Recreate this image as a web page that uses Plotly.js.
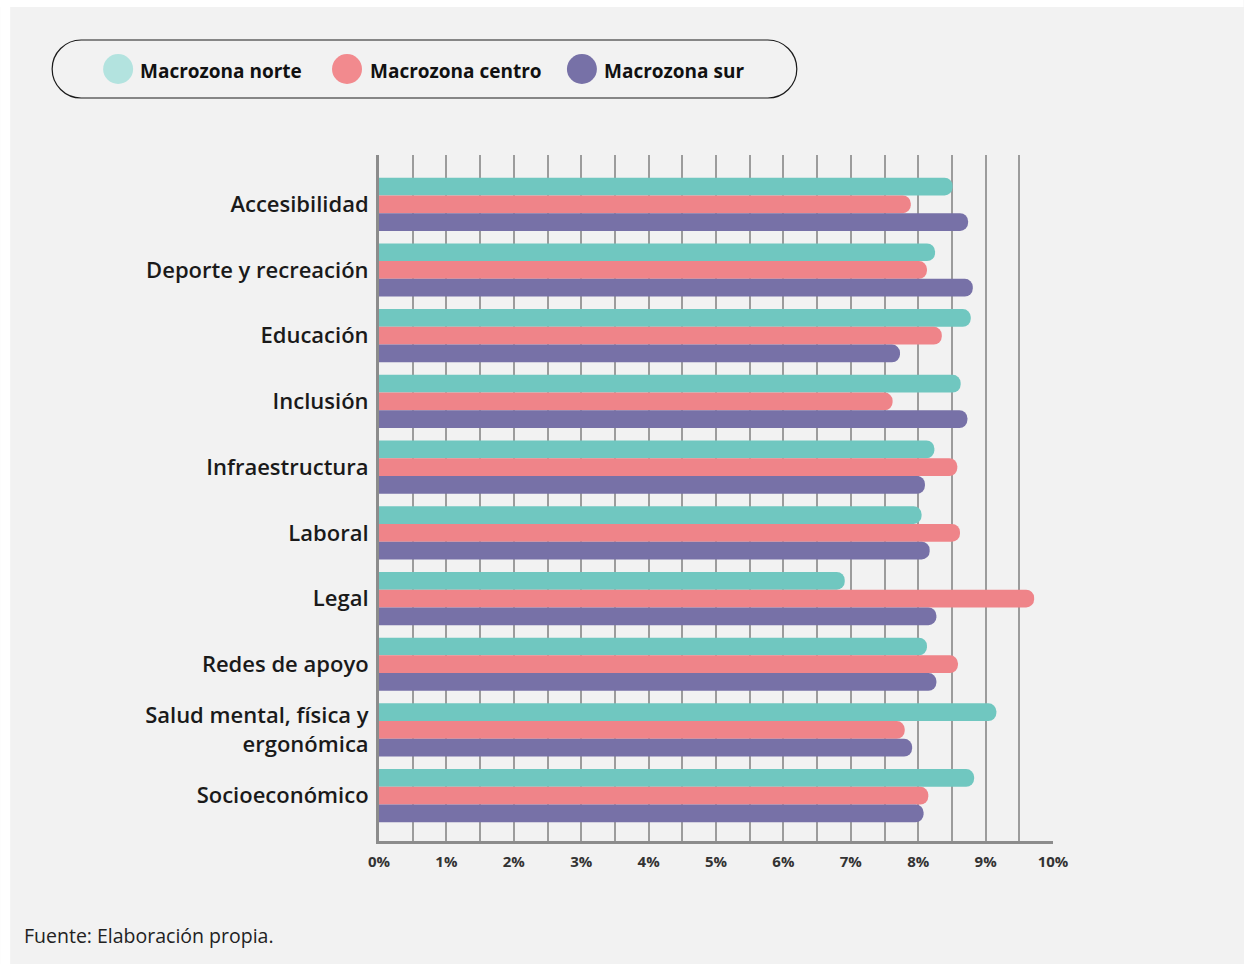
<!DOCTYPE html>
<html>
<head>
<meta charset="utf-8">
<script src="https://cdn.plot.ly/plotly-3.0.1.min.js"></script>
<style>html,body{margin:0;padding:0;background:#fff;}</style>
</head>
<body>
<div id="chart" style="width:1244px;height:964px;"></div>
<script>
const categories = ["Accesibilidad","Deporte y recreación","Educación","Inclusión","Infraestructura","Laboral","Legal","Redes de apoyo","Salud mental, física y<br>ergonómica","Socioeconómico"];
const seriesNames = ["Macrozona norte","Macrozona centro","Macrozona sur"];
const norte  = [8.51, 8.25, 8.78, 8.63, 8.24, 8.05, 6.91, 8.13, 9.16, 8.83];
const centro = [7.89, 8.13, 8.35, 7.62, 8.58, 8.62, 9.72, 8.59, 7.80, 8.15];
const sur    = [8.74, 8.81, 7.73, 8.73, 8.10, 8.17, 8.27, 8.27, 7.91, 8.08];
const barColors = ["#70c7c0","#ef8489","#7771a7"];
const legendColors = ["#b3e3df","#f28a8e","#7771a7"];
const xTickVals = [0,1,2,3,4,5,6,7,8,9,10];
const xTickText = ["0%","1%","2%","3%","4%","5%","6%","7%","8%","9%","10%"];
const footnote = "Fuente: Elaboración propia.";

const W = 1244, H = 964;
const L = 379, R = 1053.3, T = 155, B = 841;
const px = x => (x - L) / (R - L);
const py = y => (B - y) / (B - T);

const seriesVals = [norte, centro, sur];
const traces = seriesVals.map((vals, i) => ({
  type: "bar",
  orientation: "h",
  name: seriesNames[i],
  x: vals,
  y: categories,
  marker: {color: barColors[i], cornerradius: "50%", line: {width: 0}},
  hoverinfo: "x+y+name",
  showlegend: false
}));

// Legend box (stadium shape)
const bx0 = 52, bx1 = 797, by0 = 40, by1 = 98, r = 29, k = 0.5523;
const ym = (by0 + by1) / 2;
function P(x, y) { return px(x).toFixed(5) + "," + py(y).toFixed(5); }
const boxPath = "M" + P(bx0 + r, by0) + " L" + P(bx1 - r, by0) +
  " C" + P(bx1 - r + k * r, by0) + " " + P(bx1, ym - k * r) + " " + P(bx1, ym) +
  " C" + P(bx1, ym + k * r) + " " + P(bx1 - r + k * r, by1) + " " + P(bx1 - r, by1) +
  " L" + P(bx0 + r, by1) +
  " C" + P(bx0 + r - k * r, by1) + " " + P(bx0, ym + k * r) + " " + P(bx0, ym) +
  " C" + P(bx0, ym - k * r) + " " + P(bx0 + r - k * r, by0) + " " + P(bx0 + r, by0) + " Z";

const legendCx = [118, 347, 582];
const legendTx = [138, 368, 602];

const shapes = [
  {type: "rect", xref: "paper", yref: "paper", x0: px(0), x1: px(W), y0: py(7), y1: py(0), fillcolor: "#ffffff", line: {width: 0}, layer: "below"},
  {type: "rect", xref: "paper", yref: "paper", x0: px(0), x1: px(10), y0: py(H), y1: py(0), fillcolor: "#ffffff", line: {width: 0}, layer: "below"},
  {type: "path", xref: "paper", yref: "paper", path: boxPath, line: {color: "#1a1a1a", width: 1.2}, fillcolor: "rgba(0,0,0,0)"}
];
legendCx.forEach((cx, i) => {
  shapes.push({type: "circle", xref: "paper", yref: "paper",
    x0: px(cx - 15), x1: px(cx + 15), y0: py(ym + 15), y1: py(ym - 15),
    fillcolor: legendColors[i], line: {width: 0}});
});

const annotations = seriesNames.map((n, i) => ({
  xref: "paper", yref: "paper", x: px(legendTx[i]), y: py(ym + 2),
  xanchor: "left", yanchor: "middle", showarrow: false, text: "<b>" + n + "</b>",
  font: {family: "Open Sans, sans-serif", size: 19, color: "#111111"}
}));
annotations.push({
  xref: "paper", yref: "paper", x: px(22), y: py(935),
  xanchor: "left", yanchor: "middle", showarrow: false, text: footnote,
  font: {family: "Open Sans, sans-serif", size: 19.5, color: "#222222"}
});

const layout = {
  width: W, height: H,
  margin: {l: L, r: W - R, t: T, b: H - B, pad: 0},
  paper_bgcolor: "#f2f2f2",
  plot_bgcolor: "rgba(0,0,0,0)",
  barmode: "group",
  bargap: 0.19,
  bargroupgap: 0,
  showlegend: false,
  xaxis: {
    range: [0, 10],
    tickvals: xTickVals,
    ticktext: xTickText,
    showgrid: true, gridcolor: "#9c9c9c", gridwidth: 2,
    minor: {dtick: 0.5, tick0: 0, showgrid: true, gridcolor: "#9c9c9c", gridwidth: 2, ticks: ""},
    zeroline: false,
    showline: true, linecolor: "#8c8c8c", linewidth: 3,
    ticks: "", ticklabelstandoff: 5,
    tickfont: {family: "Open Sans, sans-serif", size: 15, color: "#333333", weight: 700},
    fixedrange: true
  },
  yaxis: {
    type: "category",
    range: [9.69, -0.75],
    showgrid: false, zeroline: false,
    showline: true, linecolor: "#8c8c8c", linewidth: 3,
    ticks: "", ticklabelstandoff: 3,
    tickfont: {family: "Open Sans, sans-serif", size: 22, color: "#1a1a1a", weight: 600},
    fixedrange: true
  },
  shapes: shapes,
  annotations: annotations
};

Plotly.newPlot("chart", traces, layout, {displayModeBar: false, staticPlot: false});
</script>
</body>
</html>
